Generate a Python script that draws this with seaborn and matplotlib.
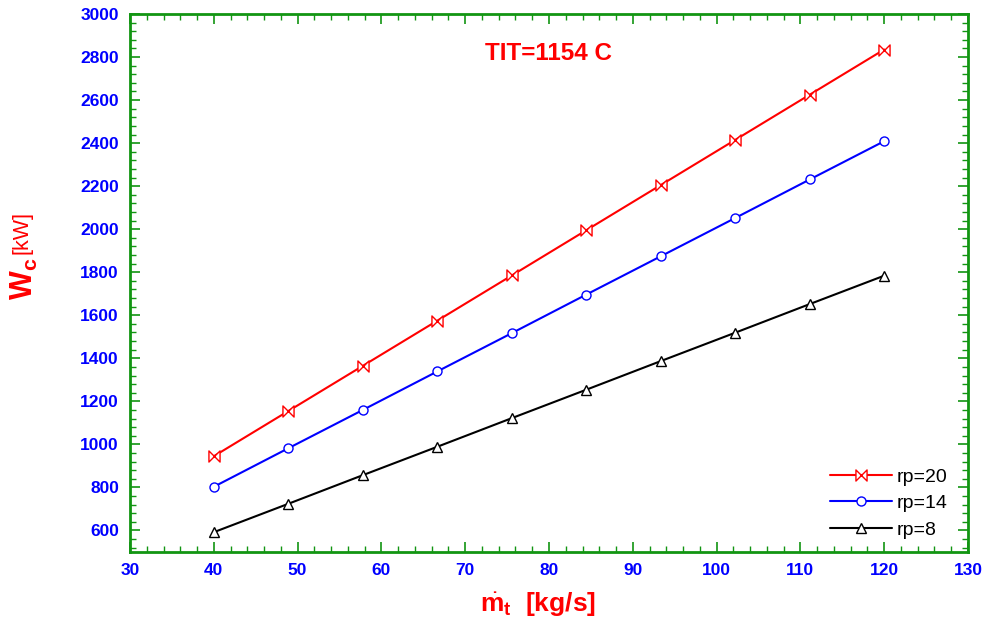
import numpy as np
import pandas as pd
import matplotlib
matplotlib.use("Agg")
import matplotlib.pyplot as plt
from matplotlib.path import Path
from matplotlib.ticker import MultipleLocator
import seaborn as sns

# Data
mass_flow = [40.0, 48.89, 57.78, 66.67, 75.56, 84.44, 93.33, 102.22, 111.11, 120.0]
wc_rp20 = [945, 1155, 1365, 1575, 1785, 1995, 2205, 2415, 2625, 2835]
wc_rp14 = [803, 982, 1160, 1339, 1517, 1696, 1874, 2052, 2231, 2409]
wc_rp8 = [592, 724, 857, 989, 1122, 1254, 1387, 1519, 1652, 1784]
series_labels = ["rp=20", "rp=14", "rp=8"]
x_ticks = list(range(30, 131, 10))
y_ticks = list(range(600, 3001, 200))

sns.set_style("ticks")
plt.rcParams["font.family"] = ["Liberation Sans", "DejaVu Sans"]
plt.rcParams["mathtext.fontset"] = "custom"
plt.rcParams["mathtext.rm"] = "Liberation Sans"
plt.rcParams["mathtext.it"] = "Liberation Sans:italic"
plt.rcParams["mathtext.bf"] = "Liberation Sans:bold"

green = "#129512"

# bowtie marker for rp=20
bowtie = Path([(-1, 1), (1, -1), (1, 1), (-1, -1), (-1, 1)],
              [Path.MOVETO, Path.LINETO, Path.LINETO, Path.LINETO, Path.CLOSEPOLY])

fig = plt.figure(figsize=(9.87, 6.2), dpi=100)
ax = fig.add_axes([130 / 987, 1 - 552 / 620, 838 / 987, 538 / 620])

styles = [
    (wc_rp20, "red", bowtie, 8),
    (wc_rp14, "blue", "o", 6.5),
    (wc_rp8, "black", "^", 7.5),
]
for (vals, col, mk, ms), lab in zip(styles, series_labels):
    df = pd.DataFrame({"m": mass_flow, "W": vals})
    sns.lineplot(data=df, x="m", y="W", ax=ax, color=col, lw=1.5,
                 marker=mk, markersize=ms, markerfacecolor="white",
                 markeredgecolor=col, markeredgewidth=1.0, label=lab)

ax.set_xlim(30, 130)
ax.set_ylim(500, 3000)
ax.set_xticks(x_ticks)
ax.set_yticks(y_ticks)
ax.xaxis.set_minor_locator(MultipleLocator(2))
ax.yaxis.set_minor_locator(MultipleLocator(40))
ax.tick_params(which="both", direction="in", top=True, right=True, color=green,
               labelcolor="blue", labelsize=12.5)
ax.tick_params(which="major", length=7, width=1.2, pad=8)
ax.tick_params(which="minor", length=4, width=1.0)
for lbl in ax.get_xticklabels() + ax.get_yticklabels():
    lbl.set_fontweight("bold")
for sp in ax.spines.values():
    sp.set_color(green)
    sp.set_linewidth(2)

ax.set_xlabel("")
ax.set_ylabel("")

ax.text(0.499, 0.927, "TIT=1154 C", transform=ax.transAxes, color="red",
        fontsize=17.5, fontweight="bold", ha="center", va="center")

# axis labels
fig.text(538 / 987, 1 - 604 / 620, r"$\dot{\mathbf{m}}_{\mathbf{t}}$  [kg/s]",
         color="red", fontsize=19, fontweight="bold", ha="center", va="center")
fig.text(24 / 987, 1 - 279 / 620, r"$\mathbf{W_c}$", color="red", fontsize=22,
         rotation=90, ha="center", va="center")
fig.text(22 / 987, 1 - 232 / 620, "[kW]", color="red", fontsize=15.5,
         rotation=90, ha="center", va="center")

leg = ax.legend(loc="lower right", bbox_to_anchor=(0.975, 0.025), frameon=False,
                fontsize=14, handlelength=3.2, handletextpad=0.2,
                labelspacing=0.45, borderaxespad=0, borderpad=0, numpoints=1)
for txt in leg.get_texts():
    txt.set_color("black")

fig.savefig("out.png", dpi=100)
